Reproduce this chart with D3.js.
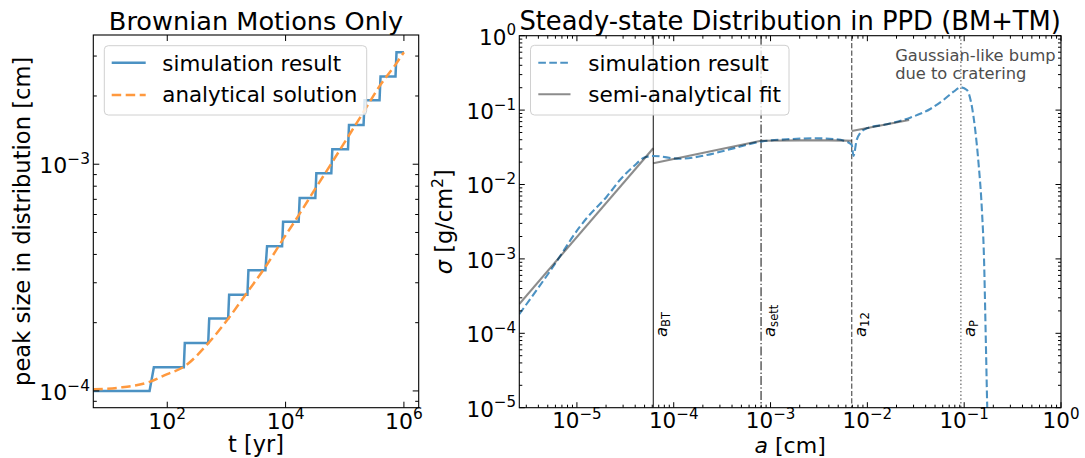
<!DOCTYPE html>
<html><head><meta charset="utf-8">
<script src="https://cdn.jsdelivr.net/npm/d3@7"></script>
<style>
body{margin:0;background:#fff;}
svg{display:block;}
text{font-family:"DejaVu Sans",sans-serif;fill:#000;}
</style>
</head><body>
<svg id="chart" width="1085" height="458"></svg>
<script>
// ---------------- DATA ----------------
// Left panel: peak size vs time (Brownian motions only)
const leftSimT    = [5.62, 50.2, 59.4, 190.5, 198, 492, 512, 1069, 1112, 2265, 2355, 4560, 4864, 8730, 9078, 16634, 17298, 31842, 33113, 59293, 61660, 113500, 118000, 208000, 216300, 387300, 402700, 721100, 749900, 1000000];
const leftSimSize = [1.0e-4, 1.0e-4, 1.272e-4, 1.272e-4, 1.629e-4, 1.629e-4, 2.085e-4, 2.085e-4, 2.659e-4, 2.659e-4, 3.41e-4, 3.41e-4, 4.35e-4, 4.35e-4, 5.57e-4, 5.57e-4, 7.09e-4, 7.09e-4, 9.12e-4, 9.12e-4, 1.164e-3, 1.164e-3, 1.49e-3, 1.49e-3, 1.914e-3, 1.914e-3, 2.44e-3, 2.44e-3, 3.12e-3, 3.12e-3];
const leftAnaT    = [5.62, 15.8, 50, 100, 190, 490, 1070, 2265, 4560, 8730, 16600, 31800, 59300, 113500, 208000, 387000, 721000, 1000000];
const leftAnaSize = [1.017e-4, 1.035e-4, 1.096e-4, 1.186e-4, 1.277e-4, 1.62e-4, 2.08e-4, 2.73e-4, 3.52e-4, 4.6e-4, 5.95e-4, 7.8e-4, 1.007e-3, 1.32e-3, 1.70e-3, 2.21e-3, 2.75e-3, 3.12e-3];
const leftXTicks = [1e2, 1e4, 1e6];
const leftYTicks = [1e-4, 1e-3];
const leftLegend = ["simulation result", "analytical solution"];

// Right panel: steady-state distribution
const rightSimA     = [2.54e-6, 5.65e-6, 1.074e-5, 1.259e-5, 2.03e-5, 2.78e-5, 3.82e-5, 5.05e-5, 6.15e-5, 1.161e-4, 2.19e-4, 4.13e-4, 7.80e-4, 1.469e-3, 2.77e-3, 4.47e-3, 6.14e-3, 6.90e-3, 7.18e-3, 7.76e-3, 8.41e-3, 9.86e-3, 1.589e-2, 2.77e-2, 4.46e-2, 6.11e-2, 7.76e-2, 9.25e-2, 0.1067, 0.1202, 0.130, 0.1406, 0.1524, 0.1603, 0.1667, 0.173, 0.1758];
const rightSimSigma = [1.81e-4, 7.78e-4, 2.71e-3, 3.52e-3, 6.85e-3, 1.148e-2, 1.734e-2, 2.32e-2, 2.42e-2, 2.22e-2, 2.49e-2, 3.06e-2, 3.76e-2, 4.05e-2, 4.18e-2, 4.09e-2, 3.76e-2, 3.40e-2, 2.42e-2, 3.98e-2, 4.88e-2, 5.69e-2, 6.44e-2, 7.91e-2, 0.1035, 0.1368, 0.1766, 0.2023, 0.1862, 0.1112, 5.41e-2, 1.945e-2, 4.54e-3, 1.0e-3, 1.0e-4, 1.0e-5, 4.0e-6];
const fitA1 = [2.54e-6, 6.15e-5],  fitS1 = [2.48e-4, 3.07e-2];
const fitA2 = [6.15e-5, 7.98e-4],  fitS2 = [1.93e-2, 3.88e-2];
const fitA3 = [7.98e-4, 2e-3, 4e-3, 6.9e-3], fitS3 = [3.88e-2, 3.92e-2, 3.92e-2, 3.88e-2];
const fitA4 = [6.9e-3, 2.7e-2],    fitS4 = [5.24e-2, 7.36e-2];
const vlineA   = [6.15e-5, 7.98e-4, 6.9e-3, 9.25e-2];
const vlineSub = ["BT", "sett", "12", "P"];
const rightXTicks = [1e-5, 1e-4, 1e-3, 1e-2, 1e-1, 1e0];
const rightYTicks = [1e-5, 1e-4, 1e-3, 1e-2, 1e-1, 1e0];
const rightLegend = ["simulation result", "semi-analytical fit"];
const bumpNote = ["Gaussian-like bump", "due to cratering"];

// ---------------- STYLE / LAYOUT ----------------
const BLUE = "#4c92c3", ORANGE = "#ff993e";
const LBOX = {x0: 93.3, x1: 418.7, y0: 35, y1: 407.7};
const RBOX = {x0: 519.3, x1: 1061, y0: 35.7, y1: 407.7};
const vlineDash = [null, "9,2.2,1.4,2.2", "5.2,2.2", "1.4,2.3"];
const vlineColor = ["#222", "#222", "#444", "#555"];

const svg = d3.select("#chart");

function sci(sel, v, fs) {
  const e = Math.round(Math.log10(v));
  sel.append("tspan").text("10");
  sel.append("tspan").attr("font-size", fs * 0.7).attr("dy", -fs * 0.42)
     .text((e < 0 ? "\u2212" : "") + Math.abs(e));
}
function logMinors(lo, hi) {
  const out = [];
  for (let d = Math.floor(Math.log10(lo)) - 1; d <= Math.ceil(Math.log10(hi)); d++)
    for (let k = 2; k <= 9; k++) { const v = k * Math.pow(10, d); if (v >= lo * 0.9999 && v <= hi * 1.0001) out.push(v); }
  return out;
}
function ticks(g, xs, ys, box, xMaj, xMin, yMaj, yMin, maj, mn) {
  const t = g.append("g").attr("stroke", "#000").attr("stroke-width", 1);
  const seg = (x1, y1, x2, y2) => t.append("line").attr("x1", x1).attr("y1", y1).attr("x2", x2).attr("y2", y2);
  xMaj.forEach(v => { const x = xs(v); seg(x, box.y1, x, box.y1 - maj); seg(x, box.y0, x, box.y0 + maj); });
  xMin.forEach(v => { const x = xs(v); seg(x, box.y1, x, box.y1 - mn); seg(x, box.y0, x, box.y0 + mn); });
  yMaj.forEach(v => { const y = ys(v); seg(box.x0, y, box.x0 + maj, y); seg(box.x1, y, box.x1 - maj, y); });
  yMin.forEach(v => { const y = ys(v); seg(box.x0, y, box.x0 + mn, y); seg(box.x1, y, box.x1 - mn, y); });
}
function frame(g, box) {
  g.append("rect").attr("x", box.x0).attr("y", box.y0).attr("width", box.x1 - box.x0).attr("height", box.y1 - box.y0)
   .attr("fill", "none").attr("stroke", "#000").attr("stroke-width", 1.1);
}
function clip(id, box) {
  svg.append("clipPath").attr("id", id).append("rect")
     .attr("x", box.x0).attr("y", box.y0).attr("width", box.x1 - box.x0).attr("height", box.y1 - box.y0);
}

// ---------------- LEFT PANEL ----------------
{
  const box = LBOX;
  const x = d3.scaleLog().domain([Math.pow(10, 0.75), Math.pow(10, 6.25)]).range([box.x0, box.x1]);
  const y = d3.scaleLog().domain([Math.pow(10, -4.074), Math.pow(10, -2.43)]).range([box.y1, box.y0]);
  clip("clipL", box);
  const g = svg.append("g");
  const plot = g.append("g").attr("clip-path", "url(#clipL)");

  const sim = d3.zip(leftSimT, leftSimSize);
  const ana = d3.zip(leftAnaT, leftAnaSize);
  plot.append("path").datum(sim)
    .attr("d", d3.line().x(d => x(d[0])).y(d => y(d[1])))
    .attr("fill", "none").attr("stroke", BLUE).attr("stroke-width", 2.5);
  plot.append("path").datum(ana)
    .attr("d", d3.line().curve(d3.curveMonotoneX).x(d => x(d[0])).y(d => y(d[1])))
    .attr("fill", "none").attr("stroke", ORANGE).attr("stroke-width", 2.5).attr("stroke-dasharray", "9.5,4.5");

  ticks(g, x, y, box, leftXTicks, [], leftYTicks, logMinors(y.domain()[0], y.domain()[1]), 6, 3.5);

  leftXTicks.forEach(v => {
    const t = g.append("text").attr("x", x(v)).attr("y", 428.5).attr("text-anchor", "middle").attr("font-size", 22);
    sci(t, v, 22);
  });
  leftYTicks.forEach(v => {
    const t = g.append("text").attr("x", 90).attr("y", y(v) + 9.2).attr("text-anchor", "end").attr("font-size", 22);
    sci(t, v, 22);
  });

  // legend
  const lg = g.append("g");
  lg.append("rect").attr("x", 104.3).attr("y", 45.7).attr("width", 262.4).attr("height", 69.3).attr("rx", 4)
    .attr("fill", "#fff").attr("fill-opacity", 0.8).attr("stroke", "#d0d0d0").attr("stroke-width", 1);
  lg.append("line").attr("x1", 111.7).attr("x2", 145.7).attr("y1", 62.7).attr("y2", 62.7)
    .attr("stroke", BLUE).attr("stroke-width", 2.5);
  lg.append("line").attr("x1", 111.7).attr("x2", 145.7).attr("y1", 95).attr("y2", 95)
    .attr("stroke", ORANGE).attr("stroke-width", 2.5).attr("stroke-dasharray", "9.5,4.5");
  lg.append("text").attr("x", 162.3).attr("y", 71).attr("font-size", 21.4).text(leftLegend[0]);
  lg.append("text").attr("x", 162.3).attr("y", 101.5).attr("font-size", 21.4).text(leftLegend[1]);

  frame(g, box);

  g.append("text").attr("x", (box.x0 + box.x1) / 2).attr("y", 30).attr("text-anchor", "middle")
    .attr("font-size", 25.6).text("Brownian Motions Only");
  g.append("text").attr("x", (box.x0 + box.x1) / 2).attr("y", 452).attr("text-anchor", "middle")
    .attr("font-size", 22.4).text("t [yr]");
  g.append("text").attr("transform", `translate(29.5,${(box.y0 + box.y1) / 2}) rotate(-90)`).attr("text-anchor", "middle")
    .attr("font-size", 22.6).text("peak size in distribution [cm]");
}

// ---------------- RIGHT PANEL ----------------
{
  const box = RBOX;
  const x = d3.scaleLog().domain([Math.pow(10, -5.595), 1]).range([box.x0, box.x1]);
  const y = d3.scaleLog().domain([1e-5, 1]).range([box.y1, box.y0]);
  clip("clipR", box);
  const g = svg.append("g");
  const plot = g.append("g").attr("clip-path", "url(#clipR)");

  // vertical reference lines
  vlineA.forEach((a, i) => {
    const l = plot.append("line").attr("x1", x(a)).attr("x2", x(a)).attr("y1", box.y0).attr("y2", box.y1)
      .attr("stroke", vlineColor[i]).attr("stroke-width", 1.1);
    if (vlineDash[i]) l.attr("stroke-dasharray", vlineDash[i]);
  });

  const sim = d3.zip(rightSimA, rightSimSigma);
  plot.append("path").datum(sim)
    .attr("d", d3.line().curve(d3.curveMonotoneX).x(d => x(d[0])).y(d => y(d[1])))
    .attr("fill", "none").attr("stroke", BLUE).attr("stroke-width", 2.1).attr("stroke-dasharray", "7.6,3.4");

  [[fitA1, fitS1], [fitA2, fitS2], [fitA3, fitS3], [fitA4, fitS4]].forEach(([A, S]) => {
    plot.append("path").datum(d3.zip(A, S))
      .attr("d", d3.line().curve(d3.curveMonotoneX).x(d => x(d[0])).y(d => y(d[1])))
      .attr("fill", "none").attr("stroke", "#000").attr("stroke-opacity", 0.45).attr("stroke-width", 2.1);
  });

  // labels of reference lines
  vlineA.forEach((a, i) => {
    const t = g.append("text").attr("transform", `translate(${x(a) + 14},337) rotate(-90)`).attr("font-size", 16.5);
    t.append("tspan").attr("font-style", "italic").text("a");
    t.append("tspan").attr("font-size", 16.5 * 0.7).attr("dy", 3.2).text(vlineSub[i]);
  });

  // annotation
  const nx = x(0.01936), ny = y(0.461);
  bumpNote.forEach((s, i) => {
    g.append("text").attr("x", nx).attr("y", ny + i * 18.4).attr("font-size", 16.3).attr("fill", "#4d4d4d")
      .style("fill", "#4d4d4d").text(s);
  });

  ticks(g, x, y, box, rightXTicks, logMinors(x.domain()[0], 1), rightYTicks, logMinors(1e-5, 1), 5.5, 3);

  rightXTicks.forEach(v => {
    const t = g.append("text").attr("x", x(v)).attr("y", 427.7).attr("text-anchor", "middle").attr("font-size", 21.5);
    sci(t, v, 21.5);
  });
  rightYTicks.forEach(v => {
    const t = g.append("text").attr("x", 516).attr("y", y(v) + 8.8).attr("text-anchor", "end").attr("font-size", 21.5);
    sci(t, v, 21.5);
  });

  // legend
  const lg = g.append("g");
  lg.append("rect").attr("x", 530.5).attr("y", 45.3).attr("width", 258.5).attr("height", 69.7).attr("rx", 4)
    .attr("fill", "#fff").attr("fill-opacity", 0.8).attr("stroke", "#d0d0d0").attr("stroke-width", 1);
  lg.append("line").attr("x1", 538.3).attr("x2", 570.5).attr("y1", 62.7).attr("y2", 62.7)
    .attr("stroke", BLUE).attr("stroke-width", 2.1).attr("stroke-dasharray", "7.6,3.4");
  lg.append("line").attr("x1", 538.3).attr("x2", 570.5).attr("y1", 94.3).attr("y2", 94.3)
    .attr("stroke", "#000").attr("stroke-opacity", 0.45).attr("stroke-width", 2.1);
  lg.append("text").attr("x", 588.3).attr("y", 71).attr("font-size", 21.6).text(rightLegend[0]);
  lg.append("text").attr("x", 588.3).attr("y", 101.5).attr("font-size", 21.6).text(rightLegend[1]);

  frame(g, box);

  g.append("text").attr("x", (box.x0 + box.x1) / 2).attr("y", 30).attr("text-anchor", "middle")
    .attr("font-size", 25.8).text("Steady-state Distribution in PPD (BM+TM)");
  const xl = g.append("text").attr("x", (box.x0 + box.x1) / 2).attr("y", 452.5).attr("text-anchor", "middle").attr("font-size", 22);
  xl.append("tspan").attr("font-style", "italic").text("a");
  xl.append("tspan").text(" [cm]");
  const yl = g.append("text").attr("transform", `translate(452,${(box.y0 + box.y1) / 2}) rotate(-90)`)
    .attr("text-anchor", "middle").attr("font-size", 22.5);
  yl.append("tspan").attr("font-style", "italic").text("\u03c3");
  yl.append("tspan").text(" [g/cm");
  yl.append("tspan").attr("font-size", 22.5 * 0.7).attr("dy", -9).text("2");
  yl.append("tspan").attr("dy", 9).text("]");
}
</script>
</body></html>
